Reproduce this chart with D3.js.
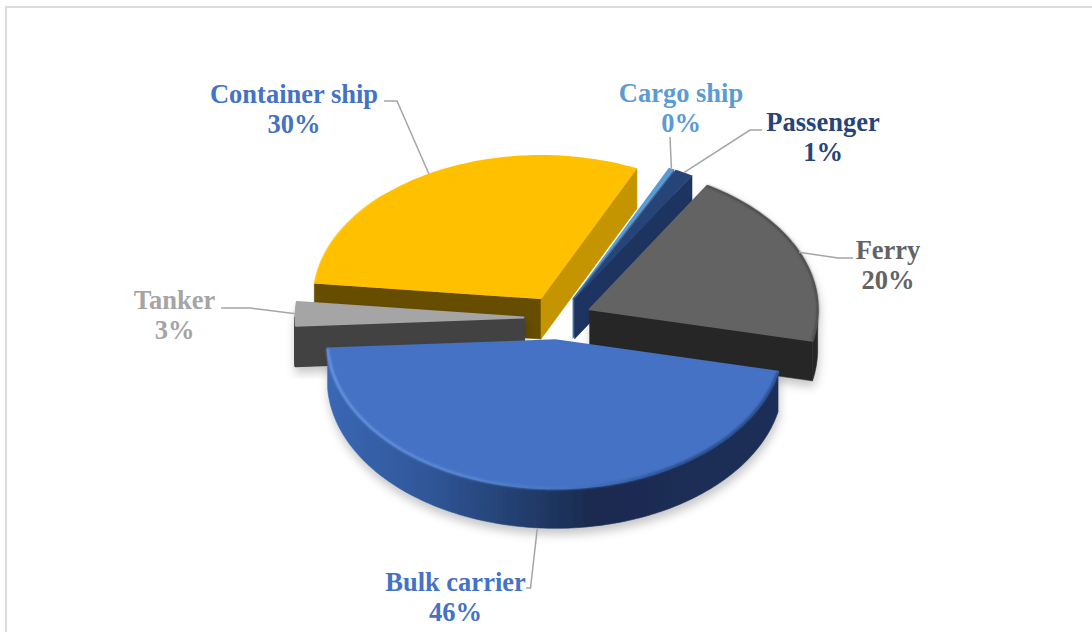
<!DOCTYPE html>
<html>
<head>
<meta charset="utf-8">
<script src="https://cdn.jsdelivr.net/npm/d3@7"></script>
<style>
  html, body { margin: 0; padding: 0; background: #fff; }
  svg { display: block; }
</style>
</head>
<body>
<svg id="chart" width="1092" height="632"></svg>
<script>
// Ship types, clockwise from the start of the Ferry wedge
const categories = ["Ferry", "Bulk carrier", "Tanker", "Container ship", "Cargo ship", "Passenger"];
const shares = [19.8, 45.7, 2.6, 30.2, 0.4, 1.3];

// Colours per wedge
const topColors = ["#636363", "#4472c4", "#a5a5a5", "#ffc000", "#5b9bd5", "#264478"];
const startWallColors = ["#262626", "#1b2f58", "#434343", "#664d00", "#3e6d9c", "#1d3461"];
const endWallColors = ["#262626", "#1b2f58", "#434343", "#c49500", "#3e6d9c", "#1d3461"];
const outerWallColors = ["#262626", "url(#bulkWall)", "#434343", "#664d00", "#3e6d9c", "#1d3461"];
const labelColors = ["#636363", "#4472c4", "#a5a5a5", "#4472c4", "#5b9bd5", "#264478"];

// Painter's order, back to front
const drawOrder = ["Container ship", "Cargo ship", "Passenger", "Ferry", "Tanker", "Bulk carrier"];

// Label centre and the leader line's elbow points, per category
const labelLayout = {
  "Ferry":          { x: 888, y: 250, elbow: [[838, 258], [853, 258]] },
  "Bulk carrier":   { x: 455.5, y: 582, elbow: [[530.5, 588], [526, 588]] },
  "Tanker":         { x: 174.5, y: 300, elbow: [[250, 308], [221, 308]] },
  "Container ship": { x: 294, y: 94,  elbow: [[397, 101], [384, 101]] },
  "Cargo ship":     { x: 681, y: 93,  elbow: [[670, 137]] },
  "Passenger":      { x: 823, y: 122, elbow: [[750, 130], [762, 130]] }
};

// Projection of the tilted pie
const cx = 558, cy = 318, rx = 228, ryBack = 144, ryFront = 148;
const explode = 34.5 / rx, depth = 40;
const deg = Math.PI / 180;

const xScale = d3.scaleLinear().domain([-1, 1]).range([cx - rx, cx + rx]);
const yBack = d3.scaleLinear().domain([0, 1]).range([cy, cy - ryBack]);
const yFront = d3.scaleLinear().domain([0, -1]).range([cy, cy + ryFront]);
const project = (u, v) => [xScale(u), v >= 0 ? yBack(v) : yFront(v)];

const svg = d3.select("#chart");
const defs = svg.append("defs");

// Horizontal shading on the long front wall of the bulk carrier wedge
const wallGrad = defs.append("linearGradient").attr("id", "bulkWall")
  .attr("gradientUnits", "userSpaceOnUse")
  .attr("x1", 327).attr("x2", 778).attr("y1", 0).attr("y2", 0);
[[0, "#3b67b4"], [0.22, "#305799"], [0.42, "#233f70"], [0.58, "#1a2b50"], [1, "#1b2f58"]]
  .forEach(([o, c]) => wallGrad.append("stop").attr("offset", o).attr("stop-color", c));

// Rim highlight on the same wedge, bright on the left and dark on the right
const rimGrad = defs.append("linearGradient").attr("id", "bulkRim")
  .attr("gradientUnits", "userSpaceOnUse")
  .attr("x1", 327).attr("x2", 778).attr("y1", 0).attr("y2", 0);
[[0, "#6f9be6"], [0.3, "#5f8bd8"], [0.5, "#4a78c8"], [0.62, "#3d68b4"], [0.78, "#27457e"], [1, "#27457e"]]
  .forEach(([o, c]) => rimGrad.append("stop").attr("offset", o).attr("stop-color", c));

const shadow = defs.append("filter").attr("id", "softShadow")
  .attr("x", "-15%").attr("y", "-15%").attr("width", "130%").attr("height", "135%");
shadow.append("feDropShadow").attr("dx", 1).attr("dy", 6).attr("stdDeviation", 5)
  .attr("flood-color", "#000").attr("flood-opacity", 0.22);

const soft = defs.append("filter").attr("id", "softEdge");
soft.append("feGaussianBlur").attr("stdDeviation", 0.9);

// Chart frame: only the top and left edges show inside the window
svg.append("path").attr("d", "M6,632V7H1092").attr("fill", "none")
  .attr("stroke", "#dcdcdc").attr("stroke-width", 2);

const pie = d3.pie().sort(null).startAngle(31 * deg).endAngle(391 * deg);
const arcs = pie(shares).map((a, i) => {
  const mid = (a.startAngle + a.endAngle) / 2;
  return {
    name: categories[i], share: shares[i], i, mid,
    a0: a.startAngle, a1: a.endAngle,
    ox: explode * Math.sin(mid), oy: explode * Math.cos(mid)
  };
});

const line = d3.line();
const rimPoint = (s, t, dy = 0) => {
  const p = project(s.ox + Math.sin(t), s.oy + Math.cos(t));
  // The wedge's own offset stays on the back scale so every point of a wedge shifts alike
  const apexShift = project(s.ox, s.oy)[1] - cy;
  const q = Math.cos(t) >= 0 ? yBack(Math.cos(t)) : yFront(Math.cos(t));
  return [p[0], q + apexShift + dy];
};
const apexPoint = (s, dy = 0) => {
  const p = project(s.ox, s.oy);
  return [p[0], p[1] + dy];
};
const angleSteps = (a0, a1) => {
  const n = Math.max(2, Math.ceil((a1 - a0) / deg));
  return d3.range(n + 1).map(k => a0 + (a1 - a0) * k / n);
};

const percent = d3.format(".0%");

const byName = new Map(arcs.map(s => [s.name, s]));
drawOrder.forEach(name => {
  const s = byName.get(name);
  const g = svg.append("g").attr("class", "wedge");
  if (["Bulk carrier", "Ferry", "Tanker"].includes(name)) g.attr("filter", "url(#softShadow)");

  // The tanker's block has visibly rounded corners
  const wallStroke = name === "Tanker" ? 3 : 0.6;
  const wall = (pts, fill) => g.append("path").attr("d", line(pts) + "Z")
    .attr("fill", fill).attr("stroke", fill).attr("stroke-width", wallStroke).attr("stroke-linejoin", "round");

  // The start wall faces the viewer in the left half, the end wall in the right half
  const normA0 = ((s.a0 / deg) % 360 + 360) % 360;
  const normA1 = ((s.a1 / deg) % 360 + 360) % 360;
  if (normA0 > 180) {
    const r = rimPoint(s, s.a0);
    wall([apexPoint(s), r, [r[0], r[1] + depth], apexPoint(s, depth)], startWallColors[s.i]);
  }
  if (normA1 < 180) {
    const r = rimPoint(s, s.a1);
    wall([apexPoint(s), r, [r[0], r[1] + depth], apexPoint(s, depth)], endWallColors[s.i]);
  }

  // Outer wall: the part of the rim that lies on the near half of the ellipse
  const t0 = Math.max(s.a0, 90 * deg), t1 = Math.min(s.a1, 270 * deg);
  if (t1 > t0) {
    const ts = angleSteps(t0, t1);
    wall(ts.map(t => rimPoint(s, t)).concat(ts.slice().reverse().map(t => rimPoint(s, t, depth))), outerWallColors[s.i]);
  }

  // Top face
  const rim = angleSteps(s.a0, s.a1).map(t => rimPoint(s, t));
  const rounded = ["Bulk carrier", "Tanker", "Ferry"].includes(name);
  g.append("path").attr("d", line([apexPoint(s), ...rim]) + "Z")
    .attr("fill", topColors[s.i])
    .attr("stroke", rounded ? topColors[s.i] : "none")
    .attr("stroke-width", rounded ? 2 : 0).attr("stroke-linejoin", "round");

  // Bevelled rim
  const rimPath = line(rim);
  if (name === "Bulk carrier") {
    g.append("path").attr("d", rimPath).attr("fill", "none")
      .attr("stroke", "url(#bulkRim)").attr("stroke-width", 2.4).attr("filter", "url(#softEdge)");
  } else if (name === "Ferry") {
    g.append("path").attr("d", rimPath).attr("fill", "none")
      .attr("stroke", "#404040").attr("stroke-width", 1.6).attr("filter", "url(#softEdge)");
  } else if (name === "Container ship") {
    g.append("path").attr("d", line(angleSteps(s.a0, s.a0 + 40 * deg).map(t => rimPoint(s, t)))).attr("fill", "none")
      .attr("stroke", "#ffcb2e").attr("stroke-width", 1.2);
  }
});

// Leader lines run from the rim at each wedge's middle angle to the label elbow
const leaders = svg.append("g").attr("fill", "none").attr("stroke", "#a5a5a5").attr("stroke-width", 1.5);
arcs.forEach(s => {
  const front = Math.cos(s.mid) < 0;
  const from = rimPoint(s, s.mid, front ? depth + 1 : 0);
  leaders.append("path").attr("d", line([from, ...labelLayout[s.name].elbow]));
});

// Two-line labels: category name above its rounded share
const labels = svg.append("g")
  .attr("font-family", "'Liberation Serif', serif")
  .attr("font-weight", 700).attr("font-size", 26.5).attr("text-anchor", "middle");
arcs.forEach(s => {
  const l = labelLayout[s.name];
  const text = labels.append("text").attr("fill", labelColors[s.i]);
  text.append("tspan").attr("x", l.x).attr("y", l.y + 9).text(s.name);
  text.append("tspan").attr("x", l.x).attr("y", l.y + 39).text(percent(s.share / 100));
});
</script>
</body>
</html>
